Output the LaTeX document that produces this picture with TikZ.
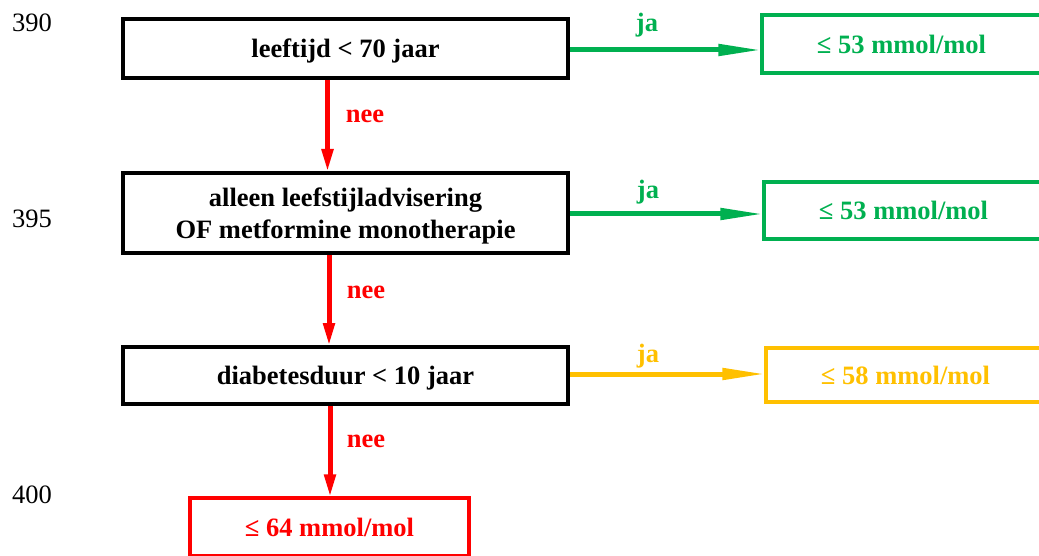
\documentclass[tikz,border=0pt]{standalone}
\usepackage{fontspec}
\setmainfont{Liberation Serif}
\usetikzlibrary{arrows.meta}
\definecolor{okgreen}{RGB}{0,176,80}
\definecolor{okyellow}{RGB}{255,192,0}
\definecolor{okred}{RGB}{255,0,0}
\tikzset{
  x=1pt, y=-1pt,
  decision/.style={draw=black, line width=4pt, minimum width=445pt,
    align=center, font=\fontsize{26.5}{32}\selectfont\bfseries, inner sep=0pt,
    text depth=0pt},
  target/.style={draw=#1, text=#1, line width=3.5pt, minimum width=279pt,
    minimum height=57pt, font=\fontsize{26.5}{32}\selectfont\bfseries, inner sep=0pt},
  yesarrow/.style={draw=#1, line width=5pt, shorten >=-2pt,
    -{Triangle[length=44pt, width=11pt]}},
  noarrow/.style={draw=okred, line width=5pt, shorten >=-1pt,
    -{Triangle[length=23pt, width=11pt]}},
  yeslabel/.style={text=#1, font=\fontsize{26.5}{30}\selectfont\bfseries},
  nolabel/.style={text=okred, font=\fontsize{26.5}{30}\selectfont\bfseries},
  linenr/.style={font=\fontsize{26.5}{30}\selectfont}
}
\begin{document}
\begin{tikzpicture}
\useasboundingbox (0,0) rectangle (1039,556);
\clip (0,0) rectangle (1039,556);

% line numbers in the margin
\node[linenr] (n390) at (32,23) {390};
\node[linenr] (n395) at (32,219) {395};
\node[linenr] (n400) at (32,495) {400};

% decision boxes
\node[decision, minimum height=59pt] (b1) at (345.5,48.5) {leeftijd < 70 jaar};
\node[decision, minimum height=80pt] (b2) at (345.5,213)
  {alleen leefstijladvisering\\OF metformine monotherapie};
\node[decision, minimum height=57pt] (b3) at (345.5,375.5) {diabetesduur < 10 jaar};

% target values
\node[target=okgreen, minimum height=58pt] (g1) at (901.5,44) {≤ 53 mmol/mol};
\node[target=okgreen] (g2) at (903.5,210.5) {≤ 53 mmol/mol};
\node[target=okyellow, minimum height=54pt] (y3) at (905.5,375) {≤ 58 mmol/mol};
\node[target=okred, minimum height=58pt] (r4) at (329.5,527) {≤ 64 mmol/mol};

% "ja" branches
\draw[yesarrow=okgreen] ([yshift=-1.5pt]b1.east) -- ([yshift=-1.5pt]b1.east -| g1.west);
\draw[yesarrow=okgreen] ([yshift=-1pt]b2.east) -- ([yshift=-1pt]b2.east -| g2.west);
\draw[yesarrow=okyellow] ([yshift=1.5pt]b3.east) -- ([yshift=1.5pt]b3.east -| y3.west);
\node[yeslabel=okgreen] (ja1) at (647,25) {ja};
\node[yeslabel=okgreen] (ja2) at (648,192) {ja};
\node[yeslabel=okyellow] (ja3) at (648,356) {ja};

% "nee" branches
\draw[noarrow] ([xshift=-18pt]b1.south) -- ([xshift=-18pt]b2.north);
\draw[noarrow] ([xshift=-16.5pt]b2.south) -- ([xshift=-16.5pt]b3.north);
\draw[noarrow] ([xshift=-15.5pt]b3.south) -- ([xshift=-15.5pt]b3.south |- r4.north);
\node[nolabel] (nee1) at (365,116) {nee};
\node[nolabel] (nee2) at (366,292) {nee};
\node[nolabel] (nee3) at (366,441) {nee};
\end{tikzpicture}
\end{document}
